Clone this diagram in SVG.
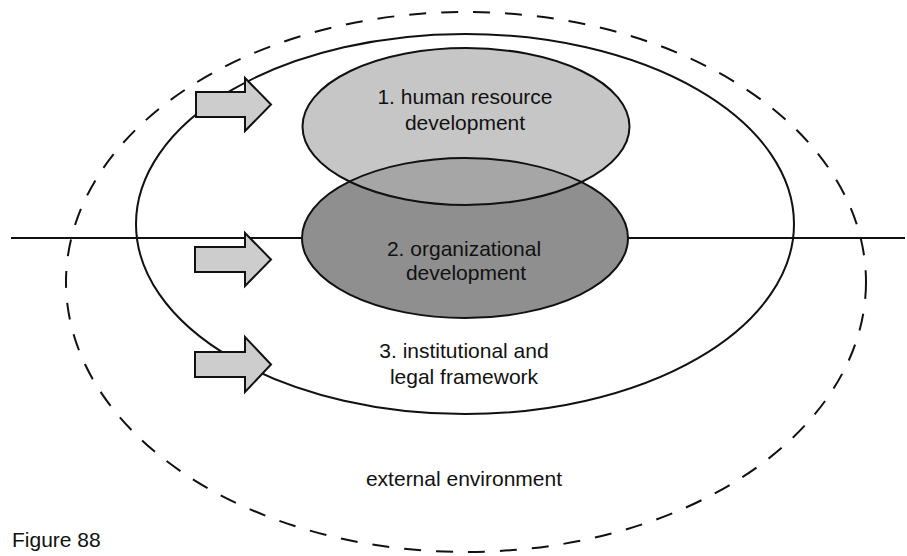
<svg xmlns="http://www.w3.org/2000/svg" width="907" height="556" viewBox="0 0 907 556">
<style>
  .lbl { font-family: "Liberation Sans", Arial, sans-serif; font-size: 21px; fill: #111; text-anchor: middle; }
  .outline { fill: none; stroke: #111; stroke-width: 2; }
  .arrow { fill: #cdcdcd; stroke: #111; stroke-width: 2; stroke-linejoin: miter; }
</style>
<defs>
  <clipPath id="clip2"><ellipse cx="465" cy="238" rx="163" ry="80"/></clipPath>
</defs>
<rect width="907" height="556" fill="#ffffff"/>

<g id="external-environment">
  <ellipse cx="466" cy="282" rx="400" ry="270" fill="none" stroke="#111" stroke-width="2" stroke-dasharray="17 15"/>
  <text class="lbl" x="464" y="486">external environment</text>
</g>

<g id="institutional-framework">
  <ellipse class="outline" cx="465" cy="224" rx="329" ry="190"/>
  <text class="lbl" x="464" y="358">3. institutional and</text>
  <text class="lbl" x="464" y="384">legal framework</text>
</g>

<g id="divider">
  <line x1="11" y1="238" x2="905" y2="238" stroke="#111" stroke-width="1.8"/>
</g>

<g id="organizational-development">
  <ellipse cx="465" cy="238" rx="163" ry="80" fill="#8f8f8f"/>
</g>

<g id="human-resource-development">
  <ellipse cx="466" cy="126.5" rx="163.5" ry="78.5" fill="#c6c6c6"/>
  <ellipse cx="466" cy="126.5" rx="163.5" ry="78.5" fill="#a6a6a6" clip-path="url(#clip2)"/>
  <ellipse class="outline" cx="466" cy="126.5" rx="163.5" ry="78.5"/>
  <text class="lbl" x="465" y="104">1. human resource</text>
  <text class="lbl" x="465" y="130">development</text>
</g>

<g id="organizational-development-label">
  <ellipse class="outline" cx="465" cy="238" rx="163" ry="80"/>
  <text class="lbl" x="464" y="256">2. organizational</text>
  <text class="lbl" x="466" y="280">development</text>
</g>

<g id="connectors">
  <path class="arrow" d="M196,92 H245 V78 L271,104.5 L245,131 V117 H196 Z"/>
  <path class="arrow" d="M195,247 H245 V233 L271,259.5 L245,286 V272 H195 Z"/>
  <path class="arrow" d="M195,352 H245 V337 L271,364.5 L245,392 V377 H195 Z"/>
</g>

<g id="caption">
  <text x="12" y="547" style="font-family: 'Liberation Sans', Arial, sans-serif; font-size: 21px; fill: #111;">Figure 88</text>
</g>
</svg>
